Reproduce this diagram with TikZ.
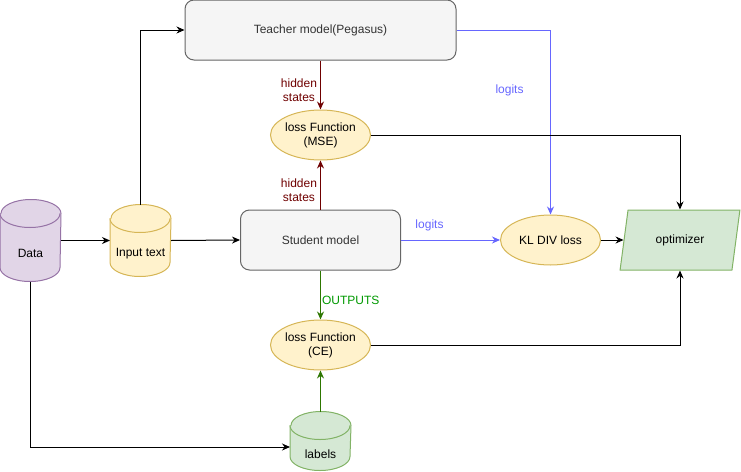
\documentclass[tikz,border=0pt]{standalone}
\usepackage{fontspec}
\setmainfont{Liberation Sans}
\usetikzlibrary{shapes.geometric,arrows.meta,calc}

\definecolor{modelfill}{HTML}{F5F5F5}
\definecolor{modelline}{HTML}{666666}
\definecolor{modeltext}{HTML}{333333}
\definecolor{yelfill}{HTML}{FFF2CC}
\definecolor{yelline}{HTML}{D6B656}
\definecolor{purfill}{HTML}{E1D5E7}
\definecolor{purline}{HTML}{9673A6}
\definecolor{grnfill}{HTML}{D5E8D4}
\definecolor{grnline}{HTML}{82B366}
\definecolor{hidcol}{HTML}{6F0000}
\definecolor{logcol}{HTML}{6666FF}
\definecolor{outline}{HTML}{2D7600}
\definecolor{outtext}{HTML}{009900}

\tikzset{
  model/.style={draw=modelline, fill=modelfill, text=modeltext, rounded corners=9pt,
    minimum height=60pt, inner sep=0pt},
  lossfn/.style={ellipse, draw=yelline, fill=yelfill, minimum width=100pt,
    minimum height=50pt, inner sep=0pt, align=center},
  dbbox/.style={minimum width=60pt, inner sep=0pt},
  arr/.style={-{Stealth[length=8pt,width=7pt]}},
}

% cylinder: name, position, height, look, text
\newcommand\dbcyl[5]{%
  \node[dbbox, minimum height=#3] (#1) at (#2) {};
  \filldraw[#4] ($(#1.north west)+(0,-14)$) -- ($(#1.south west)+(0,14)$)
    arc[start angle=180, end angle=360, x radius=30pt, y radius=14pt]
    -- ($(#1.north east)+(0,-14)$)
    arc[start angle=0, end angle=180, x radius=30pt, y radius=14pt] -- cycle;
  \draw[#4] ($(#1.north west)+(0,-14)$)
    arc[start angle=180, end angle=360, x radius=30pt, y radius=14pt];
  \node (#1-text) at ($(#1.center)+(0,-13)$) {#5};
}

\begin{document}
\begin{tikzpicture}[x=1pt, y=1pt, line width=1pt, font=\fontsize{12}{14}\selectfont]
  \useasboundingbox (0,0) rectangle (741,-471);

  % stores
  \dbcyl{data}{30.5,-240.5}{81pt}{draw=purline, fill=purfill}{Data}
  \dbcyl{input}{140.5,-240.5}{71pt}{draw=yelline, fill=yelfill}{Input text}
  \dbcyl{labels}{320.5,-441}{58pt}{draw=grnline, fill=grnfill}{labels}

  % models
  \node[model, minimum width=271pt] (teacher) at (320.5,-30) {Teacher model(Pegasus)};
  \node[model, minimum width=160pt] (student) at (320.5,-240) {Student model};

  % losses
  \node[lossfn] (mse) at (320.5,-135) {loss Function\\(MSE)};
  \node[lossfn] (ce) at (320.5,-345) {loss Function\\(CE)};
  \node[lossfn] (kl) at (550.5,-240) {KL DIV loss};

  \node[trapezium, trapezium left angle=71.57, trapezium right angle=108.43,
    trapezium stretches=true, minimum width=120pt, minimum height=60pt,
    draw=grnline, fill=grnfill, inner sep=0pt] (opt) at (680,-240) {optimizer};

  % data flow
  \draw[arr] (data.east) -- (input.west);
  \draw[arr] (input.east) -- (student.west);
  \draw[arr] (input.north) |- (teacher.west);
  \draw[arr] (data.south) |- ($(labels.west)+(0,-6)$);

  % hidden states
  \draw[arr, hidcol] (teacher.south) -- (mse.north)
    node[pos=0.6, left, align=center, inner sep=3pt, text=hidcol] (hidA) {hidden\\states};
  \draw[arr, hidcol] (student.north) -- (mse.south)
    node[pos=0.4, left, align=center, inner sep=3pt, text=hidcol] (hidB) {hidden\\states};

  % logits
  \draw[arr, logcol] (teacher.east) -| (kl.north);
  \node[text=logcol] (logA) at (509.5,-90.5) {logits};
  \draw[arr, logcol] (student.east) -- (kl.west);
  \node[text=logcol] (logB) at (429.5,-225.5) {logits};

  % outputs
  \draw[arr, outline] (student.south) -- (ce.north)
    node[pos=0.6, right, inner sep=1pt, text=outtext] (outs) {OUTPUTS};
  \draw[arr, outline] (labels.north) -- (ce.south);

  % to optimizer
  \draw[arr] (kl.east) -- (opt.west);
  \draw[arr] (mse.east) -| (opt.north);
  \draw[arr] (ce.east) -| (opt.south);
\end{tikzpicture}
\end{document}
